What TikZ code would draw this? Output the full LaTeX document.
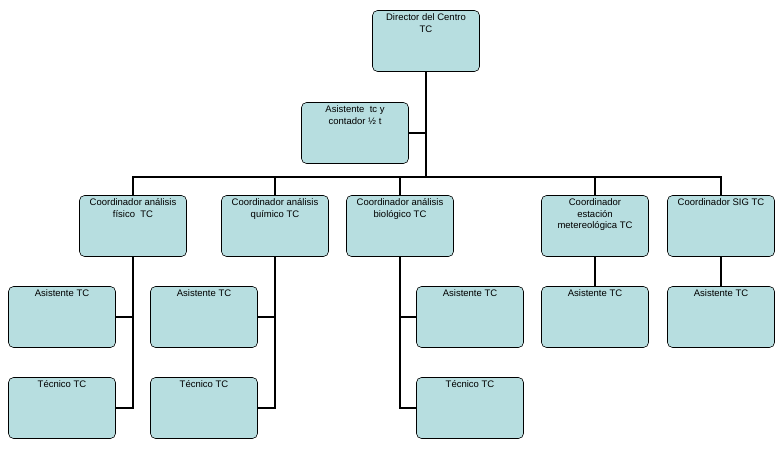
\documentclass[tikz,border=0pt]{standalone}
\usepackage{fontspec}
\setmainfont{Liberation Sans}
\usetikzlibrary{positioning}
\definecolor{boxfill}{HTML}{B7DEE0}
\tikzset{
  unit/.style={draw, rounded corners=5pt, fill=boxfill, line width=0.6pt,
    minimum width=107pt, minimum height=61pt, inner sep=2pt, font=\fontsize{9.5}{11.5}\selectfont},
  link/.style={line width=2pt}
}
\newcommand{\boxtext}[1]{\parbox[t][54pt][t]{103pt}{\centering #1}}
\begin{document}
\begin{tikzpicture}[x=1pt, y=-1pt]
    \useasboundingbox (0,0) rectangle (780,454);

    \node(dir)[unit] at (426,41){\boxtext{Director del Centro\\TC}};
    \node(asis)[unit] at (355,133){\boxtext{Asistente \ tc y\\contador ½ t}};

    \node(cfis)[unit] at (133,226){\boxtext{Coordinador análisis\\físico \ TC}};
    \node(cqui)[unit] at (275,226){\boxtext{Coordinador análisis\\químico TC}};
    \node(cbio)[unit] at (400,226){\boxtext{Coordinador análisis\\biológico TC}};
    \node(cest)[unit] at (595,226){\boxtext{Coordinador\\estación\\metereológica TC}};
    \node(csig)[unit] at (721,226){\boxtext{Coordinador SIG TC}};

    \node(afis)[unit] at (62,317){\boxtext{Asistente TC}};
    \node(aqui)[unit] at (204,317){\boxtext{Asistente TC}};
    \node(abio)[unit] at (470,317){\boxtext{Asistente TC}};
    \node(aest)[unit] at (595,317){\boxtext{Asistente TC}};
    \node(asig)[unit] at (721,317){\boxtext{Asistente TC}};

    \node(tfis)[unit] at (62,408){\boxtext{Técnico TC}};
    \node(tqui)[unit] at (204,408){\boxtext{Técnico TC}};
    \node(tbio)[unit] at (470,408){\boxtext{Técnico TC}};

    \coordinate(bus) at (426,177);
    \draw[link] (dir) -- (bus);
    \draw[link] (asis.east) -- (asis.east -| dir);
    \draw[link] (cfis.north) |- (bus) -| (csig.north);
    \draw[link] (cqui.north) -- (cqui.north |- bus);
    \draw[link] (cbio.north) -- (cbio.north |- bus);
    \draw[link] (cest.north) -- (cest.north |- bus);

    \draw[link] (cfis) |- (tfis);
    \draw[link] (afis.east) -- (afis.east -| cfis);
    \draw[link] (cqui) |- (tqui);
    \draw[link] (aqui.east) -- (aqui.east -| cqui);
    \draw[link] (cbio) |- (tbio);
    \draw[link] (abio.west) -- (abio.west -| cbio);
    \draw[link] (cest) -- (aest);
    \draw[link] (csig) -- (asig);
\end{tikzpicture}
\end{document}
